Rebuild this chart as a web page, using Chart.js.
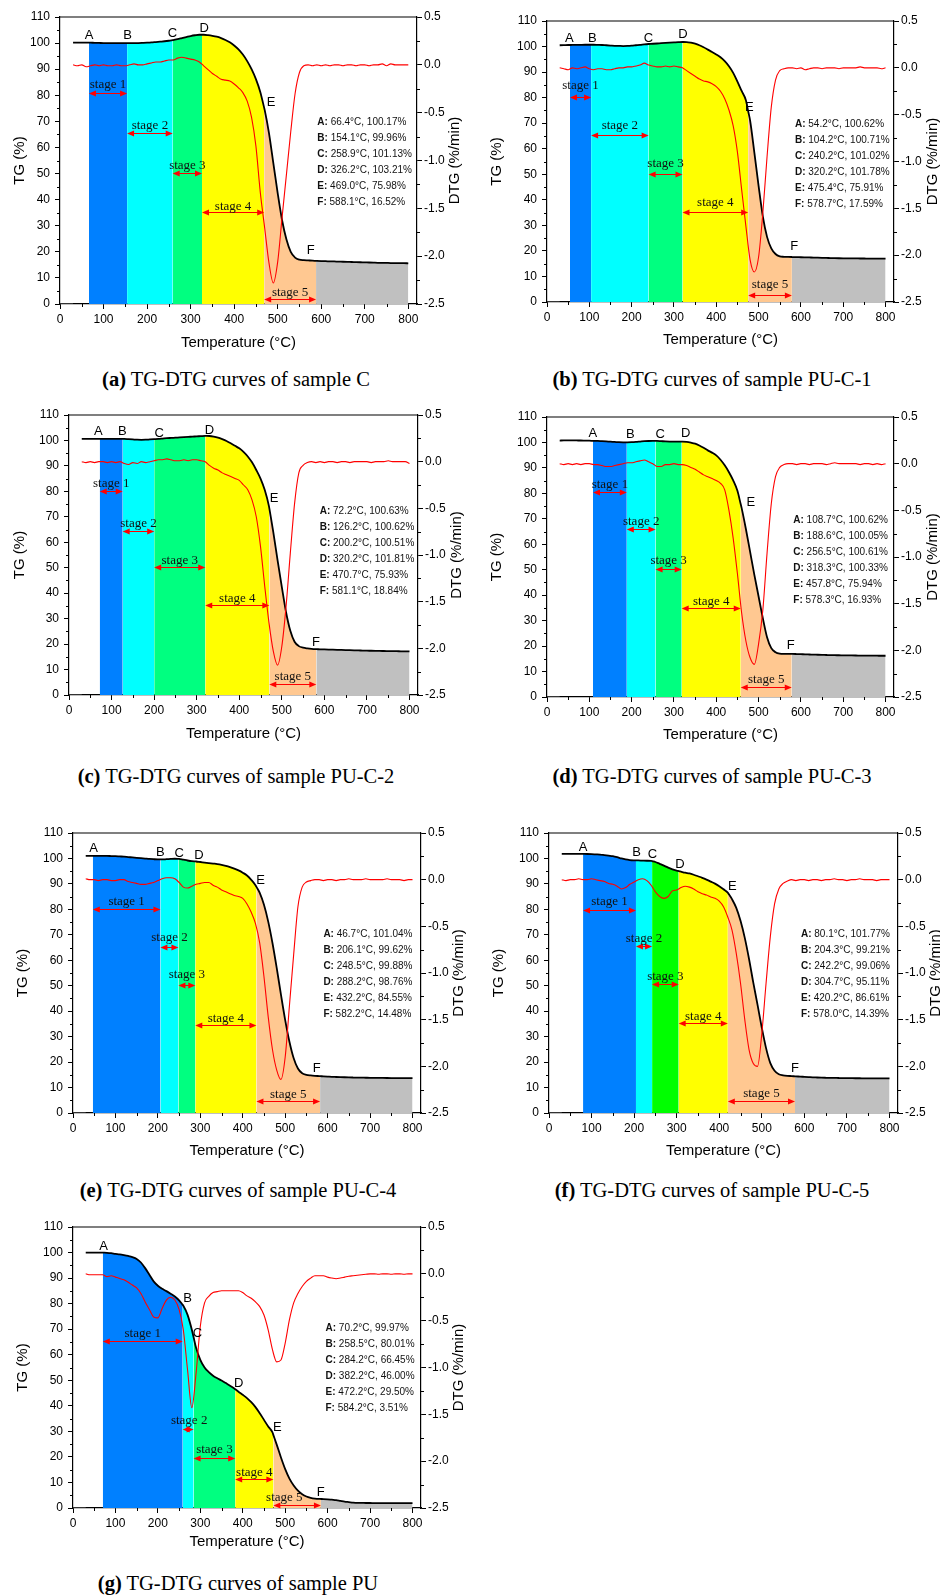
<!DOCTYPE html>
<html><head><meta charset="utf-8">
<script src="https://cdn.jsdelivr.net/npm/chart.js@4.4.1/dist/chart.umd.min.js"></script>
<style>
html,body{margin:0;padding:0;background:#fff;}
body{width:940px;height:1595px;position:relative;overflow:hidden;}
canvas{position:absolute;}
.cap{position:absolute;font-family:'Liberation Serif','Times New Roman',serif;font-size:20.5px;color:#000;white-space:nowrap;transform:translate(-50%,-50%);}
</style></head><body>
<script>
// ---------- shared axes ----------
const TEMPS = [30,40,50,60,70,80,90,100,110,120,
  130,140,150,160,170,180,190,200,210,220,
  230,240,250,260,270,280,290,300,310,320,
  330,340,350,360,370,380,390,400,410,420,
  430,440,450,460,470,480,490,500,510,520,
  530,540,550,560,570,580,590,600,610,620,
  630,640,650,660,670,680,690,700,710,720,
  730,740,750,760,770,780,790,800];
const X_TICKS = [0,100,200,300,400,500,600,700,800];
const X_MINOR = [50,150,250,350,450,550,650,750];
const TG_TICKS = [0,10,20,30,40,50,60,70,80,90,100,110];
const TG_MINOR = [5,15,25,35,45,55,65,75,85,95,105];
const DTG_TICKS = [-2.5,-2.0,-1.5,-1.0,-0.5,0.0,0.5];
const DTG_MINOR = [-2.25,-1.75,-1.25,-0.75,-0.25,0.25];
const KEY_LETTERS = ['A','B','C','D','E','F'];
const BASE_T = [0,30];
const BASE_TG = [0,0];

// ---------- (a) sample C ----------
const tgA = [100.2,100.2,100.2,100.2,100.15,100.1,100.05,100.0,99.97,99.96,
  99.96,99.96,99.96,99.97,99.99,100.02,100.08,100.15,100.25,100.4,
  100.55,100.7,100.9,101.15,101.5,101.9,102.3,102.7,103.0,103.2,
  103.2,103.05,102.8,102.45,101.9,101.2,100.3,99.1,97.6,95.6,
  93.1,90.0,86.2,81.3,74.5,65.5,54.0,42.5,32.2,24.8,
  20.0,17.8,17.0,16.8,16.7,16.6,16.52,16.45,16.4,16.35,
  16.3,16.25,16.2,16.15,16.1,16.05,16.0,15.95,15.9,15.85,
  15.8,15.8,15.75,15.7,15.7,15.65,15.65,15.6];
const dtgA = [0.0,-0.01,0.0,-0.02,-0.01,0.0,-0.01,0.0,-0.01,-0.01,
  0.0,-0.01,-0.01,0.0,0.01,0.0,0.0,0.01,0.02,0.03,
  0.03,0.04,0.05,0.05,0.07,0.08,0.07,0.06,0.05,0.03,
  -0.01,-0.05,-0.09,-0.12,-0.15,-0.16,-0.17,-0.2,-0.24,-0.29,
  -0.38,-0.55,-0.85,-1.33,-1.7,-2.07,-2.28,-2.06,-1.6,-1.15,
  -0.7,-0.3,-0.08,-0.01,0.0,-0.01,0.0,-0.01,0.0,-0.01,
  0.0,0.0,-0.01,0.0,0.0,-0.01,0.0,0.0,-0.01,0.0,
  0.0,0.01,-0.01,0.01,0.0,0.0,0.0,0.0];
const keyTA = [66.4,154.1,258.9,326.2,469.0,588.1];
const keyTGA = [100.17,99.96,101.13,103.21,75.98,16.52];
const letterXA = [67,155,258,331,485,576];
const letterYA = [102.8,102.8,103.8,105.8,77.2,20.5];
const stageTextXA = [null,null,null,null,null];
const stageTextYA = [84.0,68.3,53.0,37.3,4.5];
const stageArrowYA = [80.7,65.5,50.2,35.2,1.9];

// ---------- (b) sample PU-C-1 ----------
const tgB = [100.5,100.55,100.6,100.62,100.65,100.68,100.7,100.7,100.7,100.65,
  100.6,100.5,100.4,100.3,100.25,100.2,100.25,100.35,100.5,100.65,
  100.85,101.0,101.1,101.2,101.3,101.4,101.5,101.6,101.7,101.78,
  101.75,101.5,101.1,100.5,99.7,98.8,97.9,96.9,95.8,94.3,
  92.3,89.7,86.3,82.6,79.0,71.0,58.5,45.5,33.5,25.5,
  21.0,18.8,17.9,17.7,17.65,17.6,17.57,17.52,17.48,17.44,
  17.4,17.35,17.3,17.25,17.2,17.15,17.12,17.1,17.08,17.06,
  17.05,17.03,17.02,17.0,17.0,17.0,16.98,16.98];
const dtgB = [0.0,-0.01,-0.02,0.0,-0.01,0.0,0.01,-0.01,-0.02,-0.01,
  -0.01,-0.02,-0.02,-0.01,0.0,0.0,0.01,0.01,0.02,0.03,
  0.05,0.03,0.02,0.01,0.01,0.02,0.01,0.02,0.01,0.0,
  -0.03,-0.06,-0.09,-0.12,-0.14,-0.15,-0.17,-0.2,-0.25,-0.33,
  -0.45,-0.62,-0.9,-1.3,-1.69,-2.05,-2.18,-2.02,-1.55,-0.95,
  -0.42,-0.13,-0.03,-0.01,0.0,0.0,-0.01,0.0,-0.02,-0.01,
  0.0,0.0,-0.01,0.0,0.0,0.0,-0.01,0.0,0.0,0.0,
  0.0,0.01,0.0,0.0,0.0,0.0,-0.01,0.0];
const keyTB = [54.2,104.2,240.2,320.2,475.4,578.7];
const keyTGB = [100.62,100.71,101.02,101.78,75.91,17.59];
const letterXB = [52.7,107,240,321,478,584];
const letterYB = [103.3,103.3,103.3,104.6,76.2,21.7];
const stageTextXB = [null,null,null,null,null];
const stageTextYB = [84.6,69.0,54.0,39.0,6.7];
const stageArrowYB = [80.1,65.3,50.2,35.4,2.7];

// ---------- (c) sample PU-C-2 ----------
const tgC = [100.6,100.62,100.63,100.63,100.63,100.63,100.63,100.63,100.62,100.62,
  100.6,100.5,100.4,100.3,100.25,100.3,100.4,100.5,100.6,100.75,
  100.9,101.0,101.1,101.2,101.3,101.4,101.5,101.6,101.7,101.8,
  101.75,101.5,101.1,100.5,99.8,98.9,97.9,96.9,95.5,93.7,
  91.4,88.4,85.0,80.5,74.0,64.0,53.0,42.5,32.5,25.2,
  20.9,19.2,18.6,18.3,18.1,18.0,17.95,17.9,17.85,17.8,
  17.75,17.7,17.65,17.6,17.55,17.5,17.45,17.4,17.38,17.35,
  17.3,17.28,17.25,17.22,17.2,17.17,17.15,17.1];
const dtgC = [0.0,-0.01,0.0,-0.01,0.0,0.0,-0.01,0.0,-0.01,0.0,
  -0.02,-0.03,-0.01,-0.02,0.0,-0.01,0.0,0.01,0.02,0.02,
  0.03,0.02,0.01,0.01,0.02,0.01,0.02,0.02,0.01,0.0,
  -0.04,-0.07,-0.09,-0.12,-0.14,-0.16,-0.18,-0.2,-0.25,-0.3,
  -0.41,-0.59,-0.91,-1.34,-1.73,-2.03,-2.18,-1.98,-1.55,-0.98,
  -0.45,-0.12,-0.04,-0.01,0.0,-0.01,0.0,-0.01,0.0,0.0,
  -0.01,0.0,0.0,-0.01,0.0,0.0,0.0,0.0,-0.01,0.0,
  0.0,0.0,0.01,0.0,0.0,0.0,0.0,-0.02];
const keyTC = [72.2,126.2,200.2,320.2,470.7,581.1];
const keyTGC = [100.63,100.62,100.51,101.81,75.93,18.84];
const letterXC = [69,125.6,212,330,482,580];
const letterYC = [103.5,103.5,102.8,104.1,77.3,20.7];
const stageTextXC = [null,null,null,null,null];
const stageTextYC = [83.2,67.2,52.7,37.8,7.1];
const stageArrowYC = [80.0,64.6,50.2,35.4,4.3];

// ---------- (d) sample PU-C-3 ----------
const tgD = [100.75,100.78,100.8,100.8,100.78,100.76,100.72,100.68,100.63,100.6,
  100.5,100.4,100.3,100.2,100.1,100.05,100.05,100.1,100.2,100.35,
  100.5,100.58,100.62,100.6,100.5,100.4,100.35,100.33,100.33,100.33,
  100.2,99.9,99.5,98.8,97.9,96.9,96.0,94.9,93.2,91.0,
  88.3,85.1,81.0,74.2,66.0,57.0,48.0,39.5,31.0,23.5,
  19.2,17.6,17.05,16.95,16.94,16.93,16.88,16.82,16.75,16.7,
  16.65,16.6,16.55,16.5,16.45,16.42,16.4,16.37,16.35,16.32,
  16.3,16.28,16.26,16.25,16.23,16.22,16.2,16.2];
const dtgD = [0.0,-0.01,0.0,-0.01,0.0,-0.01,0.0,0.0,-0.01,-0.01,
  -0.02,-0.03,-0.03,-0.02,-0.01,0.0,0.01,0.01,0.02,0.03,
  0.04,0.02,0.0,-0.03,-0.03,-0.01,-0.01,0.0,-0.01,-0.01,
  -0.02,-0.04,-0.06,-0.09,-0.12,-0.14,-0.16,-0.18,-0.21,-0.28,
  -0.5,-0.8,-1.18,-1.6,-1.9,-2.08,-2.15,-1.93,-1.57,-0.96,
  -0.43,-0.14,-0.04,-0.01,0.0,0.0,-0.01,0.0,0.0,-0.01,
  0.0,0.0,0.0,-0.01,0.0,0.01,0.0,0.0,0.0,0.0,
  0.0,-0.01,0.0,0.0,-0.01,0.0,-0.01,0.0];
const keyTD = [108.7,188.6,256.5,318.3,457.8,578.3];
const keyTGD = [100.62,100.05,100.61,100.33,75.94,16.93];
const letterXD = [108.6,196.7,267.5,328,481.5,576];
const letterYD = [103.5,103.2,103.1,103.5,76.3,20.1];
const stageTextXD = [null,null,null,null,null];
const stageTextYD = [83.3,68.9,53.6,37.6,6.9];
const stageArrowYD = [80.4,66.0,50.3,34.8,3.9];

// ---------- (e) sample PU-C-4 ----------
const tgE = [101.0,101.03,101.04,101.04,101.03,101.0,100.95,100.9,100.8,100.7,
  100.55,100.4,100.25,100.1,99.95,99.8,99.7,99.63,99.62,99.7,
  99.8,99.88,99.8,99.5,99.2,98.95,98.8,98.6,98.4,98.2,
  98.0,97.8,97.5,97.1,96.6,96.0,95.3,94.4,93.3,91.6,
  89.5,86.5,81.8,75.2,66.8,57.0,46.5,36.5,28.0,21.5,
  17.5,15.6,15.0,14.75,14.6,14.5,14.4,14.3,14.2,14.15,
  14.1,14.05,14.0,13.95,13.9,13.88,13.85,13.82,13.8,13.78,
  13.76,13.75,13.74,13.72,13.71,13.7,13.7,13.7];
const dtgE = [0.01,0.0,0.0,-0.01,0.0,0.0,-0.01,-0.01,0.0,0.0,
  -0.02,-0.03,-0.04,-0.05,-0.05,-0.04,-0.03,-0.01,0.01,0.02,
  0.02,0.01,-0.03,-0.08,-0.09,-0.07,-0.05,-0.04,-0.03,-0.03,
  -0.06,-0.08,-0.11,-0.13,-0.15,-0.17,-0.18,-0.2,-0.26,-0.35,
  -0.47,-0.68,-1.04,-1.47,-1.82,-2.04,-2.14,-1.9,-1.35,-0.8,
  -0.29,-0.08,-0.025,-0.01,0.0,0.0,-0.01,0.0,0.0,-0.01,
  0.0,0.0,0.01,0.0,0.0,0.0,0.01,0.0,0.0,0.0,
  0.0,0.01,0.0,0.0,0.0,-0.01,0.0,0.0];
const keyTE = [46.7,206.1,248.5,288.2,432.2,582.2];
const keyTGE = [101.04,99.62,99.88,98.76,84.55,14.48];
const letterXE = [48.6,205.5,250,297,442,574];
const letterYE = [103.9,102.5,102.1,101.2,91.2,17.6];
const stageTextXE = [null,null,null,null,null];
const stageTextYE = [83.0,68.8,54.2,37.2,7.2];
const stageArrowYE = [80.1,65.3,50.3,34.4,4.8];

// ---------- (f) sample PU-C-5 ----------
const tgF = [101.8,101.8,101.79,101.78,101.77,101.77,101.75,101.7,101.6,101.5,
  101.3,101.1,100.9,100.5,100.0,99.6,99.35,99.25,99.21,99.15,
  99.1,99.06,98.6,97.9,97.2,96.4,95.7,95.2,94.8,94.4,
  94.1,93.6,93.0,92.4,91.7,90.9,90.1,89.1,87.9,86.6,
  84.0,80.6,75.5,68.8,60.5,51.2,42.5,33.5,25.5,19.6,
  16.6,15.2,14.8,14.6,14.5,14.39,14.3,14.2,14.1,14.0,
  13.95,13.9,13.85,13.8,13.78,13.75,13.72,13.7,13.68,13.66,
  13.65,13.63,13.62,13.6,13.6,13.6,13.6,13.6];
const dtgF = [0.0,-0.01,0.0,0.0,0.01,0.0,0.0,0.01,0.0,-0.01,
  -0.02,-0.04,-0.05,-0.07,-0.1,-0.085,-0.05,-0.025,0.0,0.01,
  -0.01,-0.06,-0.13,-0.18,-0.2,-0.18,-0.12,-0.11,-0.085,-0.07,
  -0.08,-0.1,-0.13,-0.15,-0.165,-0.185,-0.2,-0.23,-0.29,-0.4,
  -0.54,-0.79,-1.11,-1.5,-1.82,-1.97,-2.0,-1.65,-1.11,-0.61,
  -0.26,-0.1,-0.04,-0.015,0.0,-0.01,0.0,0.0,-0.01,0.0,
  0.0,-0.01,0.0,0.0,0.01,0.0,0.0,-0.01,0.0,0.0,
  0.01,0.0,0.0,0.0,-0.01,0.0,0.0,0.0];
const keyTF = [80.1,204.3,242.2,304.7,420.2,578.0];
const keyTGF = [101.77,99.21,99.06,95.11,86.61,14.39];
const letterXF = [80,205.5,243,307.5,431,578];
const letterYF = [104.5,102.2,101.5,97.6,89.2,17.4];
const stageTextXF = [null,null,null,null,null];
const stageTextYF = [83.0,68.6,53.6,37.9,7.6];
const stageArrowYF = [79.9,65.7,50.8,35.3,4.7];

// ---------- (g) sample PU ----------
const tgG = [99.97,99.97,99.97,99.97,99.97,99.9,99.75,99.5,99.3,99.0,
  98.65,98.2,97.5,96.1,93.9,91.3,88.7,87.0,85.8,84.9,
  83.9,82.8,81.3,79.2,75.6,69.8,62.7,58.0,55.0,53.2,
  51.8,50.8,49.9,48.9,47.9,46.8,45.5,44.3,43.0,41.4,
  39.5,37.1,34.5,31.9,29.6,24.8,19.8,15.2,11.5,8.8,
  6.8,5.4,4.5,4.0,3.7,3.55,3.5,3.4,3.25,3.1,
  2.8,2.5,2.3,2.1,2.0,2.0,1.95,1.95,1.9,1.9,
  1.9,1.9,1.9,1.9,1.9,1.9,1.9,1.9];
const dtgG = [0.0,-0.01,-0.01,-0.01,-0.01,-0.03,-0.02,-0.035,-0.05,-0.064,
  -0.09,-0.12,-0.15,-0.21,-0.3,-0.38,-0.46,-0.47,-0.37,-0.28,
  -0.25,-0.28,-0.38,-0.6,-1.03,-1.43,-1.06,-0.56,-0.31,-0.24,
  -0.2,-0.19,-0.18,-0.18,-0.18,-0.18,-0.18,-0.2,-0.235,-0.26,
  -0.3,-0.35,-0.44,-0.6,-0.81,-0.94,-0.92,-0.74,-0.49,-0.31,
  -0.21,-0.135,-0.08,-0.046,-0.02,-0.02,-0.02,-0.035,-0.045,-0.053,
  -0.045,-0.035,-0.025,-0.02,-0.015,-0.01,-0.005,0.0,0.0,-0.005,
  0.0,0.0,-0.005,0.0,0.0,-0.005,0.0,0.0];
const keyTG_ = [70.2,258.5,284.2,382.2,472.2,584.2];
const keyTGG = [99.97,80.01,66.45,46.00,29.50,3.51];
const letterXG = [72,270,293,390.6,481.6,584];
const letterYG = [102.4,82.2,68.5,48.6,31.6,6.0];
const stageTextXG = [null,273.7,null,null,498];
const stageTextYG = [68.2,34.1,22.7,13.8,4.0];
const stageArrowYG = [65.4,31.0,19.7,11.2,1.2];

// ---------- layout / style (not data) ----------
const BLUE='#0080ff', CYAN='#00ffff', SPRING='#00ff80', GREEN='#00ff00', YELLOW='#ffff00', PEACH='#ffc891', GRAY='#c0c0c0';
const PANELS = [
  {id:'a', name:'C', tg:tgA, dtg:dtgA, keyT:keyTA, keyTG:keyTGA, lx:letterXA, ly:letterYA, stx:stageTextXA, sty:stageTextYA, say:stageArrowYA, boxX:591, boxY:69.6,
   L:60.3,T:17.3,R:416.7,B:304, tgX:20, dtgX:455, tempY:343, capX:236, capY:379, colors:[BLUE,CYAN,SPRING,YELLOW,PEACH,GRAY]},
  {id:'b', name:'PU-C-1', tg:tgB, dtg:dtgB, keyT:keyTB, keyTG:keyTGB, lx:letterXB, ly:letterYB, stx:stageTextXB, sty:stageTextYB, say:stageArrowYB, boxX:586, boxY:69.6,
   L:546.7,T:21.3,R:894.3,B:302, tgX:496.7, dtgX:933, tempY:340, capX:712, capY:379, colors:[BLUE,CYAN,SPRING,YELLOW,PEACH,GRAY]},
  {id:'c', name:'PU-C-2', tg:tgC, dtg:dtgC, keyT:keyTC, keyTG:keyTGC, lx:letterXC, ly:letterYC, stx:stageTextXC, sty:stageTextYC, say:stageArrowYC, boxX:589, boxY:72.1,
   L:69.3,T:415,R:417.7,B:695.3, tgX:20, dtgX:456.7, tempY:734, capX:236, capY:776, colors:[BLUE,CYAN,SPRING,YELLOW,PEACH,GRAY]},
  {id:'d', name:'PU-C-3', tg:tgD, dtg:dtgD, keyT:keyTD, keyTG:keyTGD, lx:letterXD, ly:letterYD, stx:stageTextXD, sty:stageTextYD, say:stageArrowYD, boxX:582, boxY:69.4,
   L:546.7,T:416.7,R:894.3,B:696.7, tgX:496.7, dtgX:933, tempY:735, capX:712, capY:776, colors:[BLUE,CYAN,SPRING,YELLOW,PEACH,GRAY]},
  {id:'e', name:'PU-C-4', tg:tgE, dtg:dtgE, keyT:keyTE, keyTG:keyTGE, lx:letterXE, ly:letterYE, stx:stageTextXE, sty:stageTextYE, say:stageArrowYE, boxX:590, boxY:70.2,
   L:72.7,T:832.7,R:420.7,B:1113.3, tgX:23.3, dtgX:459.3, tempY:1151, capX:238, capY:1190, colors:[BLUE,CYAN,SPRING,YELLOW,PEACH,GRAY]},
  {id:'f', name:'PU-C-5', tg:tgF, dtg:dtgF, keyT:keyTF, keyTG:keyTGF, lx:letterXF, ly:letterYF, stx:stageTextXF, sty:stageTextYF, say:stageArrowYF, boxX:592, boxY:70.3,
   L:549.3,T:832.7,R:897.7,B:1113.3, tgX:499.3, dtgX:936, tempY:1151, capX:712, capY:1190, colors:[BLUE,CYAN,GREEN,YELLOW,PEACH,GRAY]},
  {id:'g', name:'PU', tg:tgG, dtg:dtgG, keyT:keyTG_, keyTG:keyTGG, lx:letterXG, ly:letterYG, stx:stageTextXG, sty:stageTextYG, say:stageArrowYG, boxX:595, boxY:70.4,
   L:72.7,T:1227.3,R:420.7,B:1508, tgX:23.3, dtgX:459.3, tempY:1542, capX:238, capY:1583, colors:[BLUE,CYAN,SPRING,YELLOW,PEACH,GRAY]}
];

const SANS = '"Liberation Sans", Arial, sans-serif';
const SERIF = '"Liberation Serif", "Times New Roman", serif';

function interp(xs, ys, t){
  for (let i=0;i<xs.length-1;i++){
    if (t>=xs[i] && t<=xs[i+1]) return ys[i] + (ys[i+1]-ys[i])*(t-xs[i])/(xs[i+1]-xs[i]);
  }
  return ys[ys.length-1];
}

function drawArrow(ctx, x0, x1, y){
  ctx.strokeStyle='#ff0000'; ctx.fillStyle='#ff0000'; ctx.lineWidth=1;
  ctx.beginPath(); ctx.moveTo(x0+3,y); ctx.lineTo(x1-3,y); ctx.stroke();
  ctx.beginPath(); ctx.moveTo(x0,y); ctx.lineTo(x0+7,y-3); ctx.lineTo(x0+7,y+3); ctx.closePath(); ctx.fill();
  ctx.beginPath(); ctx.moveTo(x1,y); ctx.lineTo(x1-7,y-3); ctx.lineTo(x1-7,y+3); ctx.closePath(); ctx.fill();
}

function buildPanel(P){
  const PADL=60, PADR=55, PADT=20, PADB=50;
  const Lr=Math.round(P.L), Tr=Math.round(P.T), Rr=Math.round(P.R), Br=Math.round(P.B);
  const W=Rr-Lr+PADL+PADR, H=Br-Tr+PADT+PADB;
  const cl=Lr-PADL, ct=Tr-PADT;
  const cv=document.createElement('canvas');
  cv.width=W; cv.height=H;
  cv.style.left=cl+'px'; cv.style.top=ct+'px'; cv.style.width=W+'px'; cv.style.height=H+'px';
  document.body.appendChild(cv);

  const pts = TEMPS.map((t,i)=>({x:t,y:P.tg[i]}));
  P.keyT.forEach(t=>{ if (!TEMPS.includes(t)) pts.push({x:t, y:interp(TEMPS,P.tg,t)}); });
  pts.sort((a,b)=>a.x-b.x);
  const bounds = P.keyT.concat([TEMPS[TEMPS.length-1]]);
  const fills = [];
  for (let i=0;i<6;i++){
    const seg = pts.filter(p=>p.x>=bounds[i]-1e-9 && p.x<=bounds[i+1]+1e-9);
    fills.push({data:seg, yAxisID:'y', fill:'origin', backgroundColor:P.colors[i], borderWidth:0,
      borderColor:'rgba(0,0,0,0)', pointRadius:0, cubicInterpolationMode:'monotone'});
  }
  const datasets = [
    {data:TEMPS.map((t,i)=>({x:t,y:P.dtg[i]})), yAxisID:'y2', borderColor:'#ff0000', borderWidth:1.1, pointRadius:0, fill:false, cubicInterpolationMode:'monotone'},
    {data:pts, yAxisID:'y', borderColor:'#000000', borderWidth:1.8, pointRadius:0, fill:false, cubicInterpolationMode:'monotone'},
    {data:BASE_T.map((t,i)=>({x:t,y:BASE_TG[i]})), yAxisID:'y', borderColor:'#444', borderWidth:1.5, pointRadius:0, fill:false},
  ].concat(fills);

  const tickFont = {family:'Liberation Sans', size:12};
  const annot = {
    id:'annot_'+P.id,
    afterDraw(chart){
      const ctx=chart.ctx, ca=chart.chartArea;
      const sx=chart.scales.x, sy=chart.scales.y, sy2=chart.scales.y2;
      ctx.save();
      ctx.strokeStyle='#000'; ctx.lineWidth=1.2;
      ctx.beginPath(); ctx.moveTo(ca.left, ca.top); ctx.lineTo(ca.right, ca.top); ctx.stroke();
      ctx.lineWidth=1;
      ctx.beginPath();
      X_MINOR.forEach(v=>{const px=Math.round(sx.getPixelForValue(v))+0.5; ctx.moveTo(px,ca.bottom); ctx.lineTo(px,ca.bottom+3);});
      TG_MINOR.forEach(v=>{const py=Math.round(sy.getPixelForValue(v))+0.5; ctx.moveTo(ca.left,py); ctx.lineTo(ca.left-3,py);});
      DTG_MINOR.forEach(v=>{const py=Math.round(sy2.getPixelForValue(v))+0.5; ctx.moveTo(ca.right,py); ctx.lineTo(ca.right+3,py);});
      ctx.stroke();
      ctx.fillStyle='#000'; ctx.font='13px '+SANS; ctx.textAlign='center'; ctx.textBaseline='middle';
      KEY_LETTERS.forEach((L,i)=>ctx.fillText(L, sx.getPixelForValue(P.lx[i]), sy.getPixelForValue(P.ly[i])));
      for (let i=0;i<5;i++){
        const x0=sx.getPixelForValue(P.keyT[i]), x1=sx.getPixelForValue(P.keyT[i+1]);
        drawArrow(ctx, x0, x1, Math.round(sy.getPixelForValue(P.say[i]))+0.5);
        ctx.fillStyle='#111'; ctx.font='13px '+SERIF; ctx.textAlign='center'; ctx.textBaseline='middle';
        const tx = P.stx[i]==null ? (x0+x1)/2 : sx.getPixelForValue(P.stx[i]);
        ctx.fillText('stage '+(i+1), tx, sy.getPixelForValue(P.sty[i]));
      }
      ctx.textAlign='left'; ctx.textBaseline='middle'; ctx.fillStyle='#111';
      const bx=sx.getPixelForValue(P.boxX), by=sy.getPixelForValue(P.boxY);
      KEY_LETTERS.forEach((L,i)=>{
        ctx.font='bold 10px '+SANS;
        const lab=L+':';
        ctx.fillText(lab, bx, by+i*16);
        const w=ctx.measureText(lab).width;
        ctx.font='10px '+SANS;
        ctx.fillText(' '+P.keyT[i].toFixed(1)+'°C, '+P.keyTG[i].toFixed(2)+'%', bx+w, by+i*16);
      });
      ctx.fillStyle='#000'; ctx.font='15px '+SANS; ctx.textAlign='center'; ctx.textBaseline='middle';
      const midY=(ca.top+ca.bottom)/2;
      ctx.save(); ctx.translate(P.tgX-cl, midY); ctx.rotate(-Math.PI/2); ctx.fillText('TG (%)',0,0); ctx.restore();
      ctx.save(); ctx.translate(P.dtgX-cl, midY); ctx.rotate(-Math.PI/2); ctx.fillText('DTG (%/min)',0,0); ctx.restore();
      ctx.fillText('Temperature (°C)', (ca.left+ca.right)/2, P.tempY-ct);
      ctx.restore();
    }
  };

  new Chart(cv, {
    type:'line',
    data:{datasets},
    options:{
      responsive:false, maintainAspectRatio:false, animation:false, devicePixelRatio:1, events:[],
      layout:{padding:{top:PADT,left:0,right:0,bottom:0}},
      plugins:{legend:{display:false}, tooltip:{enabled:false}},
      scales:{
        x:{type:'linear', position:'bottom', min:0, max:820,
           afterBuildTicks(s){ s.ticks = X_TICKS.map(v=>({value:v})); },
           afterFit(s){ s.height=PADB; },
           ticks:{autoSkip:false, maxRotation:0, padding:3, color:'#000', font:tickFont, callback:v=>String(v)},
           grid:{drawOnChartArea:false, tickLength:5, color:'#000', lineWidth:1},
           border:{display:true, color:'#000', width:1.2}},
        y:{type:'linear', position:'left', min:0, max:110,
           afterBuildTicks(s){ s.ticks = TG_TICKS.map(v=>({value:v})); },
           afterFit(s){ s.width=PADL; },
           ticks:{autoSkip:false, padding:5, color:'#000', font:tickFont, callback:v=>String(v)},
           grid:{drawOnChartArea:false, tickLength:5, color:'#000', lineWidth:1},
           border:{display:true, color:'#000', width:1.2}},
        y2:{type:'linear', position:'right', min:-2.5, max:0.5,
           afterBuildTicks(s){ s.ticks = DTG_TICKS.map(v=>({value:v})); },
           afterFit(s){ s.width=PADR; },
           ticks:{autoSkip:false, padding:2, color:'#000', font:tickFont, callback:v=>Number(v).toFixed(1)},
           grid:{drawOnChartArea:false, tickLength:5, color:'#000', lineWidth:1},
           border:{display:true, color:'#000', width:1.2}}
      }
    },
    plugins:[annot]
  });

  const cap=document.createElement('div');
  cap.className='cap';
  cap.style.left=P.capX+'px'; cap.style.top=P.capY+'px';
  cap.innerHTML='<b>('+P.id+')</b> TG-DTG curves of sample '+P.name;
  document.body.appendChild(cap);
}

PANELS.forEach(buildPanel);
</script>
</body></html>
